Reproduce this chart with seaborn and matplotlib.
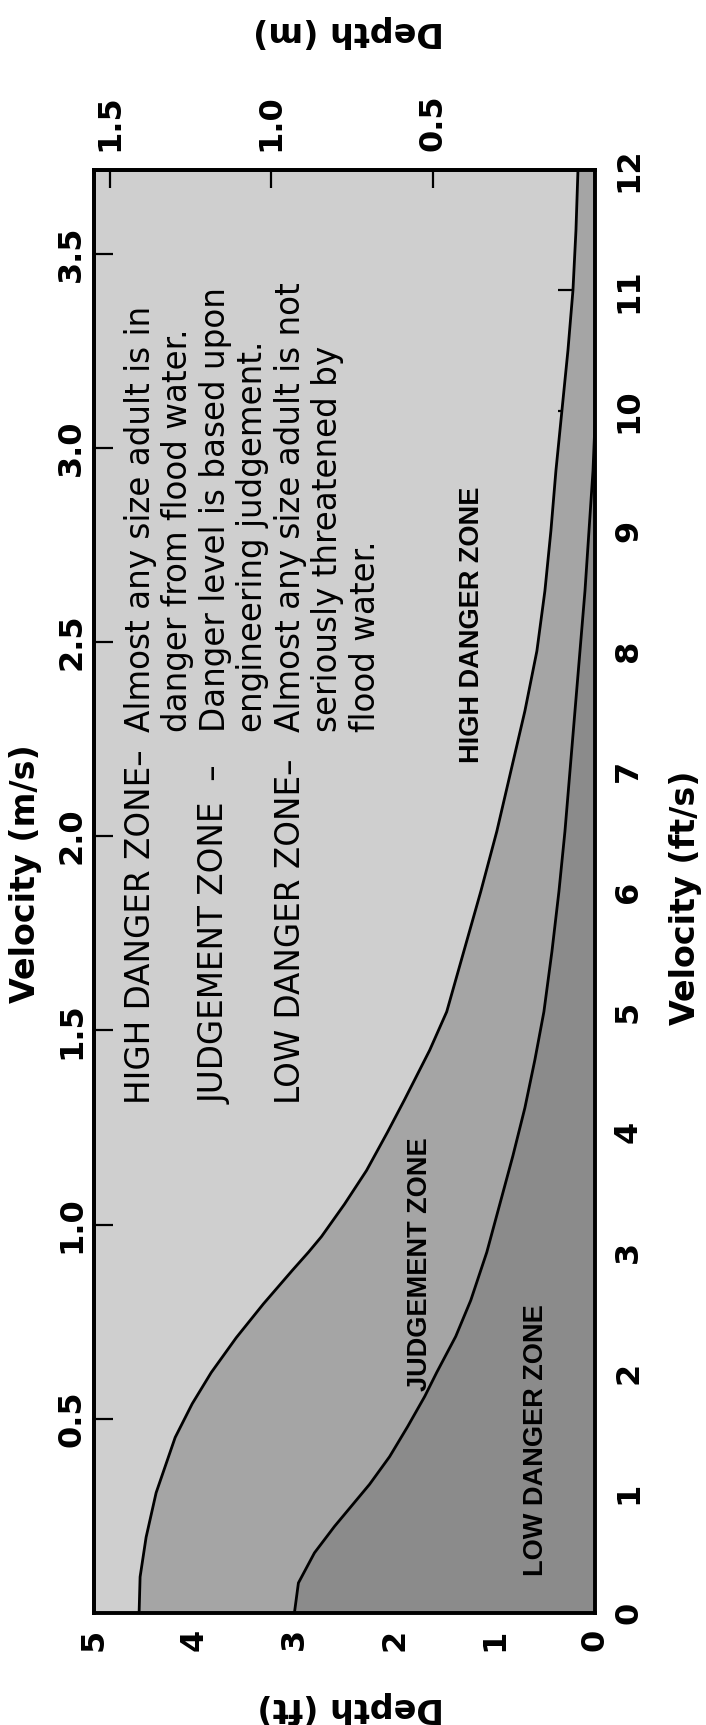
import numpy as np
import matplotlib
matplotlib.use("Agg")
import matplotlib.pyplot as plt
import seaborn as sns

# ---------------- data ----------------
# boundary between HIGH DANGER ZONE and JUDGEMENT ZONE
upper_velocity_fts = [0.0, 0.3, 0.63, 1.0, 1.46, 1.74, 2.0, 2.29, 2.57, 2.85, 3.0, 3.13,
                      3.4, 3.68, 4.0, 4.27, 4.68, 5.0, 5.5, 6.0, 6.5, 7.0, 7.5, 8.0,
                      8.5, 9.0, 9.5, 10.0, 10.5, 11.0, 11.5, 12.0]
upper_depth_ft = [4.55, 4.54, 4.48, 4.38, 4.19, 4.02, 3.83, 3.58, 3.31, 3.02, 2.86, 2.73,
                  2.50, 2.28, 2.07, 1.90, 1.65, 1.48, 1.31, 1.14, 0.98, 0.84, 0.70, 0.58,
                  0.50, 0.44, 0.39, 0.33, 0.27, 0.22, 0.19, 0.17]

# boundary between JUDGEMENT ZONE and LOW DANGER ZONE
lower_velocity_fts = [0.0, 0.25, 0.5, 0.72, 0.85, 1.07, 1.3, 1.55, 1.8, 2.0, 2.3, 2.6,
                      3.0, 3.4, 3.8, 4.2, 4.6, 5.0, 5.5, 6.0, 6.5, 7.0, 7.5, 8.0,
                      8.5, 9.0, 9.5, 9.9, 12.0]
lower_depth_ft = [3.0, 2.96, 2.80, 2.60, 2.47, 2.25, 2.05, 1.87, 1.70, 1.58, 1.39, 1.24,
                  1.08, 0.95, 0.82, 0.70, 0.60, 0.51, 0.43, 0.36, 0.30, 0.25, 0.20, 0.15,
                  0.10, 0.06, 0.02, 0.0, 0.0]

depth_ft_ticks = [0, 1, 2, 3, 4, 5]
velocity_fts_ticks = list(range(0, 13))
depth_m_ticks = [0.5, 1.0, 1.5]
depth_m_labels = ["0.5", "1.0", "1.5"]
velocity_ms_ticks = [0.5, 1.0, 1.5, 2.0, 2.5, 3.0, 3.5]
velocity_ms_labels = ["0.5", "1.0", "1.5", "2.0", "2.5", "3.0", "3.5"]
FT_PER_M = 3.23  # conversion used by the original scales

zone_names = ["HIGH DANGER ZONE–", "JUDGEMENT ZONE  –", "LOW DANGER ZONE–"]
zone_desc = [["Almost any size adult is in", "danger from flood water."],
             ["Danger level is based upon", "engineering judgement."],
             ["Almost any size adult is not", "seriously threatened by", "flood water."]]
region_labels = ["HIGH DANGER ZONE", "JUDGEMENT ZONE", "LOW DANGER ZONE"]

# ---------------- style ----------------
sns.set_style("white")
plt.rcParams["font.family"] = ["DejaVu Sans"]
plt.rcParams["text.color"] = "black"
plt.rcParams["axes.labelcolor"] = "black"
plt.rcParams["xtick.color"] = "black"
plt.rcParams["ytick.color"] = "black"

LIGHT = "#cfcfcf"
MID = "#a5a5a5"
DARK = "#8b8b8b"

W, H = 706, 1725
fig = plt.figure(figsize=(W / 100, H / 100), dpi=100)
fig.patch.set_facecolor("white")
ax = fig.add_axes([94 / W, 112 / H, 501 / W, 1443 / H])
ax.set_facecolor(LIGHT)

uv = np.array(upper_velocity_fts); ud = np.array(upper_depth_ft)
lv = np.array(lower_velocity_fts); ld = np.array(lower_depth_ft)

# judgement zone (between curves)
ax.fill(np.r_[ud, ld[::-1]], np.r_[uv, lv[::-1]], color=MID, lw=0, zorder=1)
# low danger zone
ax.fill_betweenx(lv, 0, ld, color=DARK, lw=0, zorder=1)

sns.lineplot(x=ud, y=uv, sort=False, estimator=None, color="black", linewidth=2.0, ax=ax, zorder=3)
sns.lineplot(x=ld, y=lv, sort=False, estimator=None, color="black", linewidth=2.0, ax=ax, zorder=3)

ax.set_xlim(5, 0)
ax.set_ylim(0, 12)

for s in ax.spines.values():
    s.set_visible(True)
    s.set_color("black")
    s.set_linewidth(2.8)
    s.set_zorder(5)

TICKFS = 23
ax.set_xticks(depth_ft_ticks, labels=[str(t) for t in depth_ft_ticks], rotation=90,
              fontweight="bold", fontsize=TICKFS, ha="center", va="top")
ax.yaxis.tick_right()
ax.yaxis.set_label_position("right")
ax.set_yticks(velocity_fts_ticks, labels=[str(t) for t in velocity_fts_ticks], rotation=90,
              fontweight="bold", fontsize=TICKFS, ha="left", va="center")
ax.tick_params(axis="x", direction="in", length=27, width=1.6, pad=11, bottom=True, top=False,
               color="black")
ax.tick_params(axis="y", direction="in", length=27, width=1.6, pad=13, right=True, left=False,
               color="black")

# secondary metric axes
sec_top = ax.secondary_xaxis("top", functions=(lambda d: d / FT_PER_M, lambda m: m * FT_PER_M))
sec_top.set_xticks(depth_m_ticks, labels=depth_m_labels, rotation=90, fontweight="bold",
                   fontsize=TICKFS, ha="center", va="bottom")
sec_top.tick_params(direction="in", length=13, width=1.6, pad=14, color="black")
sec_top.spines["top"].set_linewidth(2.8)

sec_left = ax.secondary_yaxis("left", functions=(lambda v: v / FT_PER_M, lambda m: m * FT_PER_M))
sec_left.set_yticks(velocity_ms_ticks, labels=velocity_ms_labels, rotation=90, fontweight="bold",
                    fontsize=TICKFS, ha="right", va="center")
sec_left.tick_params(direction="in", length=14, width=1.6, pad=5, color="black")
sec_left.spines["left"].set_linewidth(2.8)

# axis labels
LABFS = 24
ax.set_xlabel("Depth (ft)", rotation=180, fontsize=LABFS, fontweight="bold")
ax.xaxis.set_label_coords(0.513, -0.0658, transform=ax.transAxes)
ax.set_ylabel("Velocity (ft/s)", rotation=90, fontsize=LABFS, fontweight="bold")
ax.yaxis.set_label_coords(1.1816, 0.4955, transform=ax.transAxes)
sec_top.set_xlabel("Depth (m)", rotation=180, fontsize=LABFS, fontweight="bold")
sec_top.xaxis.set_label_coords(0.509, 1.0963, transform=ax.transAxes)
sec_left.set_ylabel("Velocity (m/s)", rotation=90, fontsize=LABFS, fontweight="bold")
sec_left.yaxis.set_label_coords(-0.1377, 0.5121, transform=ax.transAxes)
for lab in (ax.xaxis.label, ax.yaxis.label, sec_top.xaxis.label, sec_left.yaxis.label):
    lab.set_ha("center")
    lab.set_va("center")

# explanatory text block (rotated)
line_depths = [4.54, 4.17, 3.79, 3.42, 3.04, 2.67, 2.29]
name_v, desc_v = 4.23, 7.33
TXTFS = 23.5
line_idx = 0
for name, desc in zip(zone_names, zone_desc):
    ax.text(line_depths[line_idx], name_v, name, rotation=90, rotation_mode="anchor",
            ha="left", va="center", fontsize=TXTFS, zorder=4)
    for d in desc:
        ax.text(line_depths[line_idx], desc_v, d, rotation=90, rotation_mode="anchor",
                ha="left", va="center", fontsize=TXTFS, zorder=4)
        line_idx += 1

# region labels
region_pos = [(1.23, 8.22), (1.75, 2.90), (0.59, 1.44)]
for lbl, (d, v) in zip(region_labels, region_pos):
    ax.text(d, v, lbl, rotation=90, ha="center", va="center", fontsize=19.5,
            fontweight="bold", family=["Liberation Sans", "DejaVu Sans"], zorder=4)

fig.savefig("out.png", dpi=100, facecolor="white")
